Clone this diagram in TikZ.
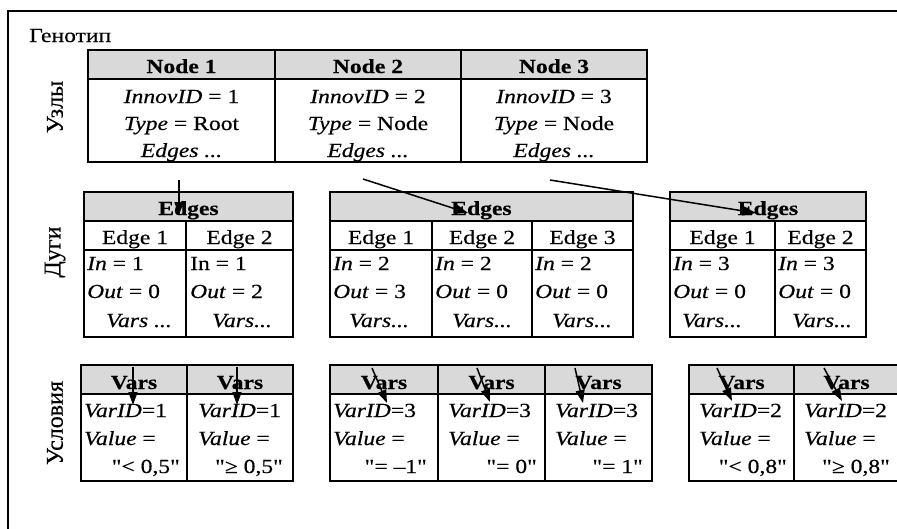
\documentclass[tikz,border=0pt]{standalone}
\usepackage{fontspec}
\setmainfont{Liberation Serif}[FakeStretch=1.18,FakeBold=0.35,Ligatures=TeXOff]
\newfontfamily\lblfont{Liberation Serif}[FakeBold=0.35,Ligatures=TeXOff]
\usetikzlibrary{arrows.meta}
\definecolor{hdrgray}{HTML}{D9D9D9}
\newcommand\mkcell[6]{\node[#1,anchor=north west,minimum width=#5pt,minimum height=#6pt] (#2) at (#3,#4) {};}
\begin{document}
\begin{tikzpicture}[x=1pt,y=-1pt,
  cellbox/.style={draw=black,line width=2pt,inner sep=0pt,outer sep=0pt,rectangle},
  hdrbox/.style={cellbox,fill=hdrgray},
  tb/.style={inner sep=0pt,anchor=base,font=\fontsize{20}{23}\selectfont},
  tl/.style={tb,anchor=base west},
  tr/.style={tb,anchor=base east},
  th/.style={tb,font=\fontsize{20}{23}\selectfont\bfseries},
  lbl/.style={inner sep=0pt,rotate=90,font=\lblfont\fontsize{24}{26}\selectfont},
  arr/.style={line width=1.5pt,-{Triangle[length=13pt,width=9pt]}}
]
\useasboundingbox (0,0) rectangle (897,528);
\clip (0,0) rectangle (897,528);
\fill[white] (0,0) rectangle (897,528);
% frame
\coordinate (fbl) at (8,540);
\coordinate (ftl) at (8,11);
\coordinate (ftr) at (905,11);
\draw[line width=2pt] (fbl) -- (ftl) -- (ftr);
\node[tl] (geno) at (29,42) {Генотип};
% row labels
\node[lbl] (lnodes) at (55,107) {Узлы};
\node[lbl] (ledges) at (55,252) {Дуги};
\node[lbl] (lvars) at (55,423) {Условия};

% ===== Nodes table =====
\mkcell{hdrbox}{n1h}{88}{50}{187}{29}
\mkcell{hdrbox}{n2h}{275}{50}{186}{29}
\mkcell{hdrbox}{n3h}{461}{50}{186}{29}
\mkcell{cellbox}{n1body}{88}{79}{187}{83}
\mkcell{cellbox}{n2body}{275}{79}{186}{83}
\mkcell{cellbox}{n3body}{461}{79}{186}{83}
\node[th] (n1t) at (181.5,73) {Node 1};
\node[th] (n2t) at (368,73) {Node 2};
\node[th] (n3t) at (554,73) {Node 3};
\node[tb] (n1l1) at (181.5,103) {\textit{InnovID} = 1};
\node[tb] (n1l2) at (181.5,130) {\textit{Type} = Root};
\node[tb] (n1l3) at (181.5,157) {\textit{Edges ...}};
\node[tb] (n2l1) at (368,103) {\textit{InnovID} = 2};
\node[tb] (n2l2) at (368,130) {\textit{Type} = Node};
\node[tb] (n2l3) at (368,157) {\textit{Edges ...}};
\node[tb] (n3l1) at (554,103) {\textit{InnovID} = 3};
\node[tb] (n3l2) at (554,130) {\textit{Type} = Node};
\node[tb] (n3l3) at (554,157) {\textit{Edges ...}};

% ===== Edges tables =====
% table 1
\mkcell{hdrbox}{e1h}{84}{192}{209}{29}
\mkcell{cellbox}{e1c1r}{84}{221}{102}{29}
\mkcell{cellbox}{e1c2r}{186}{221}{107}{29}
\mkcell{cellbox}{e1c1b}{84}{250}{102}{87}
\mkcell{cellbox}{e1c2b}{186}{250}{107}{87}
\node[th] (e1ht) at (188.5,215) {Edges};
\node[tb] (e1c1t) at (135,244) {Edge 1};
\node[tb] (e1c2t) at (239.5,244) {Edge 2};
\node[tl] (e1c1a) at (87,270) {\textit{In} = 1};
\node[tl] (e1c1o) at (87,298) {\textit{Out} = 0};
\node[tb] (e1c1v) at (139,327) {\textit{Vars ...}};
\node[tl] (e1c2a) at (190,270) {In = 1};
\node[tl] (e1c2o) at (190,298) {\textit{Out} = 2};
\node[tb] (e1c2v) at (242,327) {\textit{Vars...}};
% table 2
\mkcell{hdrbox}{e2h}{330}{192}{303}{29}
\mkcell{cellbox}{e2c1r}{330}{221}{102}{29}
\mkcell{cellbox}{e2c2r}{432}{221}{100}{29}
\mkcell{cellbox}{e2c3r}{532}{221}{101}{29}
\mkcell{cellbox}{e2c1b}{330}{250}{102}{87}
\mkcell{cellbox}{e2c2b}{432}{250}{100}{87}
\mkcell{cellbox}{e2c3b}{532}{250}{101}{87}
\node[th] (e2ht) at (481.5,215) {Edges};
\node[tb] (e2c1t) at (381,244) {Edge 1};
\node[tb] (e2c2t) at (482,244) {Edge 2};
\node[tb] (e2c3t) at (582.5,244) {Edge 3};
\node[tl] (e2c1a) at (333,270) {\textit{In} = 2};
\node[tl] (e2c1o) at (333,298) {\textit{Out} = 3};
\node[tb] (e2c1v) at (379,327) {\textit{Vars...}};
\node[tl] (e2c2a) at (435,270) {\textit{In} = 2};
\node[tl] (e2c2o) at (435,298) {\textit{Out} = 0};
\node[tb] (e2c2v) at (482,327) {\textit{Vars...}};
\node[tl] (e2c3a) at (535,270) {\textit{In} = 2};
\node[tl] (e2c3o) at (535,298) {\textit{Out} = 0};
\node[tb] (e2c3v) at (582,327) {\textit{Vars...}};
% table 3
\mkcell{hdrbox}{e3h}{670}{192}{196}{29}
\mkcell{cellbox}{e3c1r}{670}{221}{105}{29}
\mkcell{cellbox}{e3c2r}{775}{221}{91}{29}
\mkcell{cellbox}{e3c1b}{670}{250}{105}{87}
\mkcell{cellbox}{e3c2b}{775}{250}{91}{87}
\node[th] (e3ht) at (768,215) {Edges};
\node[tb] (e3c1t) at (722.5,244) {Edge 1};
\node[tb] (e3c2t) at (820.5,244) {Edge 2};
\node[tl] (e3c1a) at (673,270) {\textit{In} = 3};
\node[tl] (e3c1o) at (673,298) {\textit{Out} = 0};
\node[tb] (e3c1v) at (712,327) {\textit{Vars...}};
\node[tl] (e3c2a) at (778,270) {\textit{In} = 3};
\node[tl] (e3c2o) at (778,298) {\textit{Out} = 0};
\node[tb] (e3c2v) at (822,327) {\textit{Vars...}};

% ===== Vars tables =====
% table 1
\mkcell{hdrbox}{v1c1h}{81}{365}{106}{29}
\mkcell{hdrbox}{v1c2h}{187}{365}{106}{29}
\mkcell{cellbox}{v1c1b}{81}{394}{106}{87}
\mkcell{cellbox}{v1c2b}{187}{394}{106}{87}
\node[th] (v1c1t) at (134,389) {Vars};
\node[th] (v1c2t) at (240,389) {Vars};
\node[tl] (v1c1i) at (84,417) {\textit{VarID}=1};
\node[tl] (v1c1l) at (84,445) {\textit{Value} =};
\node[tr] (v1c1x) at (180,473) {"< 0,5"};
\node[tl] (v1c2i) at (198,417) {\textit{VarID}=1};
\node[tl] (v1c2l) at (198,445) {\textit{Value} =};
\node[tr] (v1c2x) at (283,473) {"≥ 0,5"};
% table 2
\mkcell{hdrbox}{v2c1h}{330}{365}{108}{29}
\mkcell{hdrbox}{v2c2h}{438}{365}{107}{29}
\mkcell{hdrbox}{v2c3h}{545}{365}{107}{29}
\mkcell{cellbox}{v2c1b}{330}{394}{108}{87}
\mkcell{cellbox}{v2c2b}{438}{394}{107}{87}
\mkcell{cellbox}{v2c3b}{545}{394}{107}{87}
\node[th] (v2c1t) at (384,389) {Vars};
\node[th] (v2c2t) at (491.5,389) {Vars};
\node[th] (v2c3t) at (598.5,389) {Vars};
\node[tl] (v2c1i) at (333,417) {\textit{VarID}=3};
\node[tl] (v2c1l) at (333,445) {\textit{Value} =};
\node[tr] (v2c1x) at (427,473) {"= –1"};
\node[tl] (v2c2i) at (448,417) {\textit{VarID}=3};
\node[tl] (v2c2l) at (448,445) {\textit{Value} =};
\node[tr] (v2c2x) at (537,473) {"= 0"};
\node[tl] (v2c3i) at (555,417) {\textit{VarID}=3};
\node[tl] (v2c3l) at (555,445) {\textit{Value} =};
\node[tr] (v2c3x) at (643,473) {"= 1"};
% table 3
\mkcell{hdrbox}{v3c1h}{689}{365}{105}{29}
\mkcell{hdrbox}{v3c2h}{794}{365}{105}{29}
\mkcell{cellbox}{v3c1b}{689}{394}{105}{87}
\mkcell{cellbox}{v3c2b}{794}{394}{105}{87}
\node[th] (v3c1t) at (741.5,389) {Vars};
\node[th] (v3c2t) at (846.5,389) {Vars};
\node[tl] (v3c1i) at (699,417) {\textit{VarID}=2};
\node[tl] (v3c1l) at (699,445) {\textit{Value} =};
\node[tr] (v3c1x) at (787,473) {"< 0,8"};
\node[tl] (v3c2i) at (804,417) {\textit{VarID}=2};
\node[tl] (v3c2l) at (804,445) {\textit{Value} =};
\node[tr] (v3c2x) at (890,473) {"≥ 0,8"};

% ===== arrows =====
\coordinate (a1s) at (179,180);  \coordinate (a1e) at (179,215);
\coordinate (a2s) at (363,179);  \coordinate (a2e) at (468,213);
\coordinate (a3s) at (550,180);  \coordinate (a3e) at (756,213);
\draw[arr] (a1s) -- (a1e);
\draw[arr] (a2s) -- (a2e);
\draw[arr] (a3s) -- (a3e);
\coordinate (b1s) at (133,367);  \coordinate (b1e) at (133,405);
\coordinate (b2s) at (237,367);  \coordinate (b2e) at (237,405);
\coordinate (b3s) at (372,368);  \coordinate (b3e) at (387,403);
\coordinate (b4s) at (477,368);  \coordinate (b4e) at (490,402);
\coordinate (b5s) at (575,368);  \coordinate (b5e) at (583,403);
\coordinate (b6s) at (717,368);  \coordinate (b6e) at (732,401);
\coordinate (b7s) at (824,368);  \coordinate (b7e) at (842,401);
\foreach \k in {1,...,7} {\draw[arr] (b\k s) -- (b\k e);}
\end{tikzpicture}
\end{document}
